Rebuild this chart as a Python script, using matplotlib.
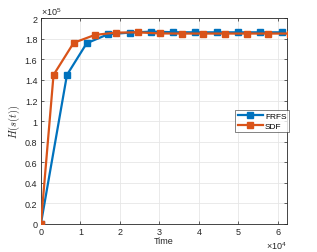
import matplotlib
matplotlib.use('Agg')
import matplotlib.pyplot as plt
from matplotlib.ticker import FuncFormatter

# data (time in 1e4, H in 1e5)
frfs_t = [0, 0.66, 1.16, 1.70, 2.25, 2.80, 3.35, 3.90, 4.45, 5.00, 5.54, 6.11]
frfs_h = [0, 1.449, 1.757, 1.844, 1.860, 1.870, 1.864, 1.863, 1.863, 1.863, 1.863, 1.863]
sdf_t = [0, 0.32, 0.83, 1.37, 1.90, 2.45, 3.01, 3.56, 4.11, 4.66, 5.21, 5.75, 6.30]
sdf_h = [0, 1.449, 1.761, 1.838, 1.860, 1.863, 1.852, 1.851, 1.851, 1.851, 1.851, 1.851, 1.851]

plt.rcParams['font.family'] = ['Liberation Sans', 'DejaVu Sans']
plt.rcParams['mathtext.fontset'] = 'cm'
plt.rcParams['font.size'] = 6.5

fig = plt.figure(figsize=(3.17, 2.53), dpi=100)
ax = fig.add_axes([0.129, 0.111, 0.775, 0.813])

ax.plot([t * 1e4 for t in frfs_t], [h * 1e5 for h in frfs_h], color='#0072BD',
        lw=1.6, marker='s', ms=4, label='FRFS', zorder=3)
ax.plot([t * 1e4 for t in sdf_t], [h * 1e5 for h in sdf_h], color='#D95319',
        lw=1.6, marker='s', ms=4, label='SDF', zorder=3)

ax.set_xlim(0, 6.22e4)
ax.set_ylim(0, 2e5)
ax.set_xticks([i * 1e4 for i in range(7)])
ax.set_yticks([i * 0.2e5 for i in range(11)])
ax.xaxis.set_major_formatter(FuncFormatter(lambda v, p: '%g' % round(v / 1e4, 3)))
ax.yaxis.set_major_formatter(FuncFormatter(lambda v, p: '%g' % round(v / 1e5, 3)))

gray = '#262626'
ax.text(0.0, 1.005, r'$\mathregular{\times10^5}$', transform=ax.transAxes, ha='left',
        va='bottom', fontsize=6.5, color=gray)
ax.text(1.0, -0.075, r'$\mathregular{\times10^4}$', transform=ax.transAxes, ha='right',
        va='top', fontsize=6.5, color=gray)

ax.grid(True, color='#e6e6e6', lw=0.6)
ax.set_axisbelow(True)
ax.tick_params(direction='in', top=True, right=True, length=2.5, width=0.5,
               colors=gray, labelsize=6.5, pad=2.5)
for s in ax.spines.values():
    s.set_linewidth(0.6)
    s.set_color(gray)

ax.set_xlabel('Time', color=gray, fontsize=6.5, labelpad=0)
ax.set_ylabel(r'$H(s(t))$', color=gray, fontsize=7.5, labelpad=2)

leg = ax.legend(loc='center right', bbox_to_anchor=(1.01, 0.5), fontsize=6,
                fancybox=False, edgecolor=gray, handlelength=3.0,
                borderpad=0.3, labelspacing=0.2, handletextpad=0.3,
                borderaxespad=0.0)
leg.get_frame().set_linewidth(0.5)

fig.savefig('out.png', dpi=100)
